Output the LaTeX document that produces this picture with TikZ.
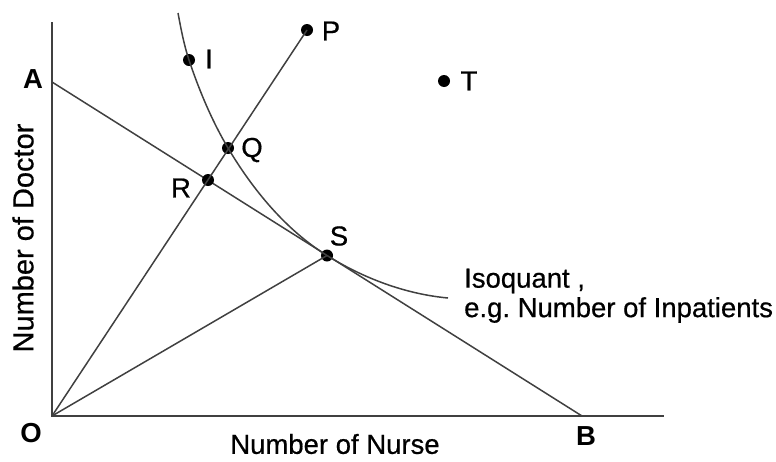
\documentclass[tikz,border=0pt]{standalone}
\usepackage{fontspec}
\setmainfont{Liberation Sans}
\newfontfamily\rfont{Liberation Sans}[RawFeature={embolden=0.6}]
\begin{document}
\begin{tikzpicture}[x=1pt,y=-1pt,
  ln/.style={draw=black!75,line width=1.5pt},
  dot/.style={circle,fill=black,inner sep=0pt,minimum size=12pt},
  lbl/.style={font=\fontsize{27.5}{32}\selectfont\rfont,inner sep=0pt},
  blbl/.style={font=\fontsize{27.5}{32}\selectfont\bfseries,inner sep=0pt}]
\useasboundingbox (0,0) rectangle (776,461);
% axes
\coordinate (O) at (52,416);
\coordinate (ytop) at (52,22);
\coordinate (xend) at (664,416);
\coordinate (A) at (52,82);
\coordinate (B) at (582,416);
\draw[ln] (ytop) -- (O) -- (xend);
\draw[ln] (A) -- (B);
% points
\node[dot] (P) at (307,30) {};
\node[dot] (I) at (189,60) {};
\node[dot] (T) at (444,81) {};
\node[dot] (Q) at (228,148) {};
\node[dot] (R) at (208,180) {};
\node[dot] (S) at (327,255.5) {};
% rays
\draw[ln] (O) -- (P.center);
\draw[ln] (O) -- (S.center);
% isoquant
\coordinate (c0) at (178,13);
\coordinate (c4) at (448,298);
\draw[ln] (c0) .. controls (181,29) and (184,45) .. (I.center)
  .. controls (199,90) and (212,121) .. (Q.center)
  .. controls (253,190) and (286,230) .. (S.center)
  .. controls (363,278) and (405,294) .. (c4);
% labels
\node[blbl] (lA) at (33,79) {A};
\node[blbl] (lO) at (31,433) {O};
\node[blbl] (lB) at (586,436) {B};
\node[lbl] (lP) at (331,31) {P};
\node[lbl] (lI) at (209,59) {I};
\node[lbl] (lT) at (469,81) {T};
\node[lbl] (lQ) at (252,150) {Q};
\node[lbl] (lR) at (181,188) {R};
\node[lbl] (lS) at (339,236) {S};
\node[lbl,anchor=west] (iso1) at (464,281) {Isoquant ,};
\node[lbl,anchor=west] (iso2) at (464,310) {e.g.\ Number of Inpatients};
\node[lbl] (xl) at (335,444) {Number of Nurse};
\node[font=\fontsize{29}{32}\selectfont\rfont,inner sep=0pt,rotate=90] (yl) at (23,238) {Number of Doctor};
\end{tikzpicture}
\end{document}
